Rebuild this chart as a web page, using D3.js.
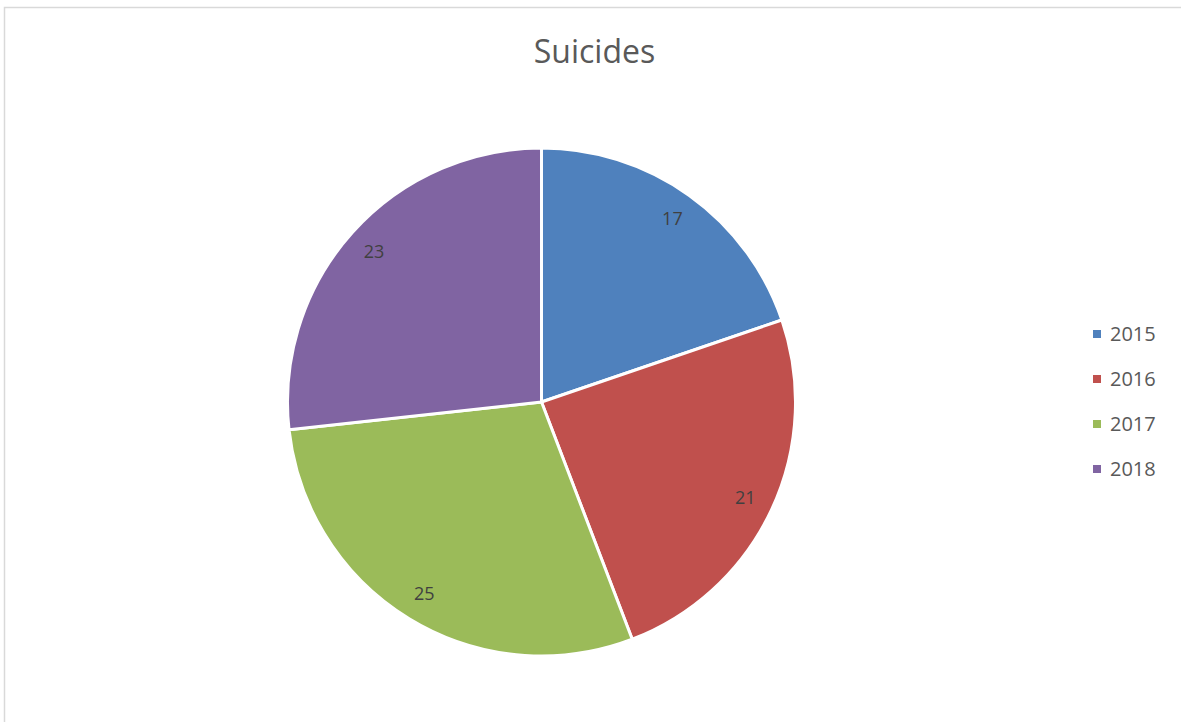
<!DOCTYPE html>
<html><head><meta charset="utf-8">
<script src="https://cdn.jsdelivr.net/npm/d3@7"></script>
<style>html,body{margin:0;padding:0;background:#fff;}svg{display:block;}</style>
</head><body>
<svg id="chart" width="1181" height="722"></svg>
<script>
const categories = ["2015", "2016", "2017", "2018"];
const values = [17, 21, 25, 23];
const colors = ["#4F81BD", "#C0504D", "#9BBB59", "#8064A2"];
const title = "Suicides";

const svg = d3.select("#chart");
const W = 1181, H = 722;
const font = "'Open Sans', 'Liberation Sans', sans-serif";

// chart border
svg.append("rect").attr("x", 4.5).attr("y", 7.5).attr("width", W + 10).attr("height", H + 10)
  .attr("fill", "#fff").attr("stroke", "#d9d9d9").attr("stroke-width", 1.5);

svg.append("text").attr("x", 594.5).attr("y", 63).attr("text-anchor", "middle")
  .attr("font-family", font).attr("font-size", 32).attr("fill", "#595959").text(title);

const cx = 541.5, cy = 402, R = 254;
const data = categories.map((c, i) => ({ cat: c, value: values[i], color: colors[i] }));
const pie = d3.pie().value(d => d.value).sort(null);
const arc = d3.arc().innerRadius(0).outerRadius(R);
const labelArc = d3.arc().innerRadius(225).outerRadius(225);
const g = svg.append("g").attr("transform", `translate(${cx},${cy})`);
const arcs = pie(data);
g.selectAll("path").data(arcs).join("path")
  .attr("d", arc).attr("fill", d => d.data.color)
  .attr("stroke", "#fff").attr("stroke-width", 3).attr("stroke-linejoin", "round");
g.selectAll("text.lbl").data(arcs).join("text").attr("class", "lbl")
  .attr("transform", d => `translate(${labelArc.centroid(d)})`)
  .attr("text-anchor", "middle").attr("dy", "0.35em")
  .attr("font-family", font).attr("font-size", 18).attr("fill", "#404040")
  .text(d => d.data.value);

const legendY = d3.scalePoint().domain(categories).range([334, 469]);
const lg = svg.append("g");
categories.forEach((c, i) => {
  const y = legendY(c);
  lg.append("rect").attr("x", 1093).attr("y", y - 4).attr("width", 8).attr("height", 8).attr("fill", colors[i]);
  lg.append("text").attr("x", 1110).attr("y", y).attr("dy", "0.35em")
    .attr("font-family", font).attr("font-size", 20).attr("fill", "#595959").text(c);
});
</script>
</body></html>
